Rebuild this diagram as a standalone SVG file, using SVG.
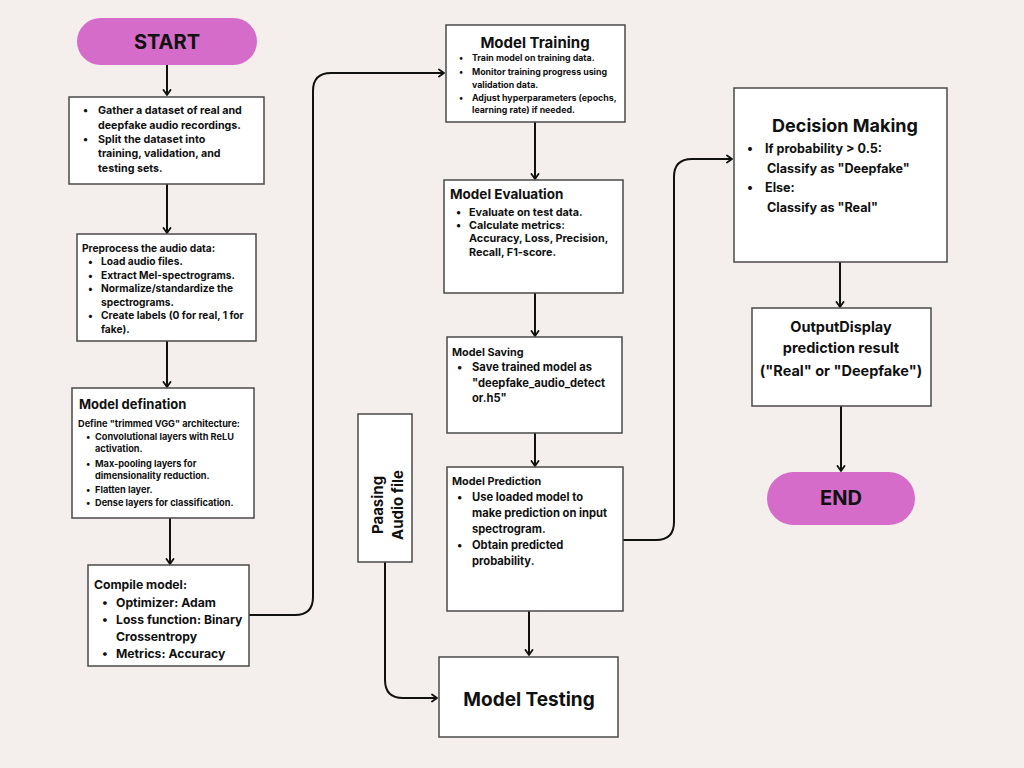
<svg xmlns="http://www.w3.org/2000/svg" width="1024" height="768" viewBox="0 0 1024 768">
<defs>
<marker id="arr" markerWidth="10" markerHeight="10" refX="6" refY="5" orient="auto" markerUnits="userSpaceOnUse">
<path d="M1,1.5 L6,5 L1,8.5" fill="none" stroke="#111" stroke-width="1.8" stroke-linecap="round" stroke-linejoin="round"/>
</marker>
<style>
.bx{fill:#fff;stroke:#4a4a4a;stroke-width:1.5}
.pill{fill:#D66CC9}
.t{font-family:Inter,"Liberation Sans",Arial,sans-serif;font-weight:700;fill:#111}
.h{font-family:Inter,"Liberation Sans",Arial,sans-serif;font-weight:700;fill:#111}
.c{fill:none;stroke:#111;stroke-width:2;marker-end:url(#arr)}
</style>
</defs>
<rect width="1024" height="768" fill="#F4EFEC"/>

<g id="connectors">
<path class="c" d="M167,65 V95"/>
<path class="c" d="M167,184 V233"/>
<path class="c" d="M167,341 V387"/>
<path class="c" d="M170,518 V564"/>
<path class="c" d="M249,615 H295 Q313,615 313,597 V91 Q313,73 331,73 H444"/>
<path class="c" d="M535,122 V179"/>
<path class="c" d="M535,293 V336"/>
<path class="c" d="M535,433 V466"/>
<path class="c" d="M529,611 V655"/>
<path class="c" d="M385,562 V680 Q385,698 403,698 H437"/>
<path class="c" d="M623,540 H656 Q674,540 674,522 V177 Q674,159 692,159 H732"/>
<path class="c" d="M840,262 V307"/>
<path class="c" d="M841,406 V471"/>
</g>

<g id="start">
<rect class="pill" x="77" y="18" width="180" height="47" rx="23.5"/>
<text class="h" x="167" y="49" font-size="20" text-anchor="middle">START</text>
</g>

<g id="gather">
<rect class="bx" x="69" y="97" width="195" height="87"/>
<g class="t" font-size="10.7">
<text x="83" y="114">•</text><text x="98" y="114">Gather a dataset of real and</text>
<text x="98" y="129">deepfake audio recordings.</text>
<text x="83" y="143">•</text><text x="98" y="143">Split the dataset into</text>
<text x="98" y="157">training, validation, and</text>
<text x="98" y="172">testing sets.</text>
</g>
</g>

<g id="preprocess">
<rect class="bx" x="77" y="234" width="179" height="107"/>
<g class="t" font-size="10.2">
<text x="82" y="252">Preprocess the audio data:</text>
<text x="88" y="265">•</text><text x="101" y="265">Load audio files.</text>
<text x="88" y="278.5">•</text><text x="101" y="278.5">Extract Mel-spectrograms.</text>
<text x="88" y="292">•</text><text x="101" y="292">Normalize/standardize the</text>
<text x="101" y="305.5">spectrograms.</text>
<text x="88" y="319">•</text><text x="101" y="319">Create labels (0 for real, 1 for</text>
<text x="101" y="332.5">fake).</text>
</g>
</g>

<g id="model-def">
<rect class="bx" x="72" y="388" width="182" height="130"/>
<text class="h" x="79" y="409" font-size="13">Model defination</text>
<g class="t" font-size="9.2">
<text x="78" y="426.5">Define "trimmed VGG" architecture:</text>
<text x="86" y="439.5">•</text><text x="95" y="439.5">Convolutional layers with ReLU</text>
<text x="95" y="451.5">activation.</text>
<text x="86" y="466.5">•</text><text x="95" y="466.5">Max-pooling layers for</text>
<text x="95" y="478.5">dimensionality reduction.</text>
<text x="86" y="492.5">•</text><text x="95" y="492.5">Flatten layer.</text>
<text x="86" y="505.5">•</text><text x="95" y="505.5">Dense layers for classification.</text>
</g>
</g>

<g id="compile">
<rect class="bx" x="88" y="565" width="161" height="101"/>
<g class="t" font-size="12.2">
<text x="94" y="588.5">Compile model:</text>
<text x="102" y="606.5">•</text><text x="116" y="606.5">Optimizer: Adam</text>
<text x="102" y="623.5">•</text><text x="116" y="623.5">Loss function: Binary</text>
<text x="116" y="640.5">Crossentropy</text>
<text x="102" y="657.5">•</text><text x="116" y="657.5">Metrics: Accuracy</text>
</g>
</g>

<g id="training">
<rect class="bx" x="446" y="25" width="179" height="97"/>
<text class="h" x="535" y="47.5" font-size="15" text-anchor="middle">Model Training</text>
<g class="t" font-size="8.8">
<text x="459" y="61">•</text><text x="472" y="61">Train model on training data.</text>
<text x="459" y="75">•</text><text x="472" y="75">Monitor training progress using</text>
<text x="472" y="87.5">validation data.</text>
<text x="459" y="100.5">•</text><text x="472" y="100.5">Adjust hyperparameters (epochs,</text>
<text x="472" y="112.5">learning rate) if needed.</text>
</g>
</g>

<g id="evaluation">
<rect class="bx" x="444" y="180" width="179" height="113"/>
<text class="h" x="450" y="199" font-size="13.5">Model Evaluation</text>
<g class="t" font-size="10.8">
<text x="456" y="216">•</text><text x="469" y="216">Evaluate on test data.</text>
<text x="456" y="229">•</text><text x="469" y="229">Calculate metrics:</text>
<text x="469" y="242">Accuracy, Loss, Precision,</text>
<text x="469" y="256">Recall, F1-score.</text>
</g>
</g>

<g id="saving">
<rect class="bx" x="447" y="337" width="175" height="96"/>
<text class="t" x="452" y="356" font-size="10.8">Model Saving</text>
<g class="t" font-size="11.2">
<text x="457" y="371">•</text><text x="472" y="371">Save trained model as</text>
<text x="472" y="387">"deepfake_audio_detect</text>
<text x="472" y="402">or.h5"</text>
</g>
</g>

<g id="prediction">
<rect class="bx" x="447" y="467" width="176" height="144"/>
<text class="t" x="452" y="485" font-size="10.8">Model Prediction</text>
<g class="t" font-size="11.2">
<text x="457" y="501">•</text><text x="472" y="501">Use loaded model to</text>
<text x="472" y="517">make prediction on input</text>
<text x="472" y="533">spectrogram.</text>
<text x="457" y="549">•</text><text x="472" y="549">Obtain predicted</text>
<text x="472" y="565">probability.</text>
</g>
</g>

<g id="passing">
<rect class="bx" x="358" y="414" width="54" height="148"/>
<text class="h" font-size="15" text-anchor="middle" transform="translate(382.5,505) rotate(-90)">Paasing</text>
<text class="h" font-size="15" text-anchor="middle" transform="translate(402.5,505) rotate(-90)">Audio file</text>
</g>

<g id="testing">
<rect class="bx" x="439" y="657" width="179" height="80"/>
<text class="h" x="529" y="706" font-size="19" text-anchor="middle">Model Testing</text>
</g>

<g id="decision">
<rect class="bx" x="734" y="88" width="213" height="174"/>
<text class="h" x="845" y="131.5" font-size="18" text-anchor="middle">Decision Making</text>
<g class="t" font-size="12.6">
<text x="747" y="152.5">•</text><text x="765" y="152.5">If probability &gt; 0.5:</text>
<text x="767" y="172.5">Classify as "Deepfake"</text>
<text x="747" y="191.5">•</text><text x="765" y="191.5">Else:</text>
<text x="767" y="211.5">Classify as "Real"</text>
</g>
</g>

<g id="output">
<rect class="bx" x="752" y="308" width="179" height="98"/>
<g class="t" font-size="14.5" text-anchor="middle">
<text x="841" y="332">OutputDisplay</text>
<text x="841" y="353">prediction result</text>
<text x="841" y="376">("Real" or "Deepfake")</text>
</g>
</g>

<g id="end">
<rect class="pill" x="767" y="472" width="148" height="53" rx="26.5"/>
<text class="h" x="841" y="505" font-size="20" text-anchor="middle">END</text>
</g>
</svg>
